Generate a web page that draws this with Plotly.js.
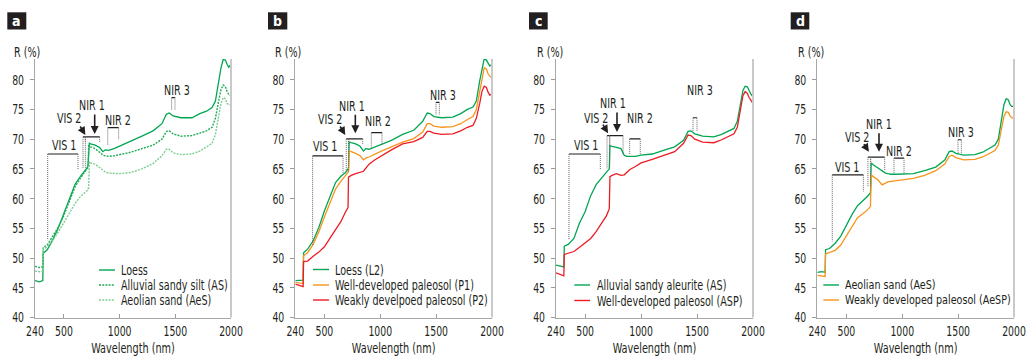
<!DOCTYPE html>
<html><head><meta charset="utf-8">
<script src="https://cdn.plot.ly/plotly-3.0.1.min.js"></script>
<style>html,body{margin:0;padding:0;background:#fff}#chart{width:1034px;height:356px}</style>
</head><body><div id="chart"></div>
<script>
// ---------------- data ----------------
const wavelength = [240,280,310,314,350,400,450,500,550,600,650,690,712,716,722,728,740,780,820,850,870,900,950,1000,1100,1200,1300,1380,1420,1445,1480,1550,1650,1720,1780,1830,1860,1890,1910,1930,1950,1965,1980,2000];

// panel a
const loessA = [46.2,46.0,46.2,50.8,51.4,53.1,55.1,57.6,60.1,62.4,63.8,64.7,65.3,65.5,69.3,69.3,69.2,69.0,68.6,67.9,68.2,68.1,68.4,68.8,69.6,70.5,71.4,72.6,74.2,74.4,73.9,73.6,73.6,74.3,74.7,75.3,76.4,79.8,82.0,83.4,83.3,82.6,82.1,82.6];
const alluvialSiltA = [48.6,48.4,48.5,51.8,52.2,53.6,55.2,57.2,59.6,62.0,63.5,64.5,65.1,65.3,68.9,68.9,68.7,68.4,67.8,67.3,67.2,67.1,67.2,67.4,67.8,68.4,69.0,70.0,71.3,71.4,70.9,70.5,70.6,71.0,71.4,72.0,73.5,76.5,78.3,79.1,78.8,78.0,77.5,77.3];
const aeolianSandA = [47.8,47.7,47.8,51.5,51.9,53.0,54.4,56.0,57.8,59.2,60.4,61.0,61.4,61.6,61.8,66.2,66.0,65.8,65.2,64.8,64.5,64.3,64.2,64.2,64.4,65.0,65.9,67.2,68.3,68.3,67.7,67.4,67.5,68.0,68.7,69.3,70.8,74.0,76.0,77.0,76.8,76.0,75.8,75.8];
// panel b
const loessL2B = [46.2,46.3,46.3,50.9,51.5,52.9,55.1,57.9,60.4,62.7,63.8,64.4,65.0,65.1,69.5,69.5,69.4,69.2,68.8,68.0,68.4,68.3,68.7,69.0,69.8,70.8,71.5,73.0,74.4,74.3,73.8,73.6,73.7,74.3,75.0,75.4,76.4,79.8,82.0,83.5,83.3,82.8,82.3,82.6];
const paleosolP1B = [45.9,45.8,45.7,50.4,50.9,52.3,54.4,56.9,59.4,61.6,63.0,63.9,64.4,64.5,68.0,68.0,67.9,67.6,67.2,66.5,66.8,67.0,67.5,67.9,68.7,69.5,70.1,71.2,72.6,72.6,72.2,72.0,72.1,72.6,73.3,73.8,75.0,78.3,80.5,82.0,81.8,81.0,80.6,80.3];
const paleosolP2B = [45.6,45.3,45.2,49.4,49.5,50.3,51.0,51.9,53.3,54.8,56.2,57.8,58.5,63.6,63.7,63.8,63.9,64.2,64.4,64.6,65.1,65.8,66.5,67.1,68.2,69.2,69.6,70.3,71.3,71.3,71.0,70.8,70.9,71.4,72.0,72.3,73.5,76.0,78.0,78.9,78.7,77.9,77.4,77.6];
// panel c
const aleuriteC = [48.8,48.6,48.5,52.0,52.3,53.3,55.9,57.8,60.5,62.4,63.6,64.4,64.9,65.0,68.9,68.9,68.8,68.6,68.4,67.3,67.1,67.1,67.1,67.3,67.5,68.1,68.7,69.8,71.3,71.4,70.9,70.5,70.4,70.8,71.3,71.8,73.0,76.3,78.2,78.9,78.8,78.2,77.6,77.1];
const paleosolASPC = [47.5,47.2,47.0,50.6,50.8,51.1,51.8,52.5,53.3,54.5,55.9,57.1,58.1,58.3,63.7,63.8,63.9,64.2,63.9,64.0,64.4,64.9,65.4,66.0,66.6,67.3,67.9,69.3,70.7,70.6,70.0,69.5,69.4,69.9,70.4,70.9,72.0,75.5,77.3,78.0,77.7,77.0,76.5,76.0];
// panel d
const aeolianSandD = [47.6,47.7,47.6,51.4,51.6,52.5,53.7,55.6,57.3,58.8,59.6,60.4,60.9,61.0,66.0,65.9,65.7,65.2,64.6,64.3,64.2,64.1,64.1,64.1,64.2,64.7,65.3,66.5,67.9,68.0,67.6,67.3,67.4,67.8,68.4,69.0,70.0,73.5,75.8,76.8,76.6,75.8,75.5,75.5];
const paleosolAeSPD = [47.1,47.0,46.9,50.7,50.9,51.3,52.2,53.8,55.4,56.8,57.5,58.1,58.6,58.7,64.0,63.9,63.7,63.2,62.3,62.6,62.8,62.9,63.0,63.1,63.4,63.9,64.7,65.8,67.1,67.3,66.9,66.5,66.6,67.0,67.6,68.1,69.0,72.0,73.8,74.6,74.5,73.9,73.6,73.5];

const panelLetters = ['a','b','c','d'];
const namesA = ['Loess','Alluvial sandy silt (AS)','Aeolian sand (AeS)'];
const namesB = ['Loess (L2)','Well-developed paleosol (P1)','Weakly develpoed paleosol (P2)'];
const namesC = ['Alluvial sandy aleurite (AS)','Well-developed paleosol (ASP)'];
const namesD = ['Aeolian sand (AeS)','Weakly developed paleosol (AeSP)'];
const xTickVals = [240,500,1000,1500,2000];
const xTickText = ['240','500','1000','1500','2000'];
const yTickVals = [40,45,50,55,60,65,70,75,80];
const yTickText = ['40','45','50','55','60','65','70','75','80'];
const bandLabels = ['VIS 1','VIS 2','NIR 1','NIR 2','NIR 3'];
const yLabel = 'R (%)';
const xLabel = 'Wavelength (nm)';

// ---------------- styles / layout positions ----------------
const W = 1034, H = 356;
const FONT = '"DejaVu Sans Condensed","Liberation Sans Narrow","Arial Narrow",Roboto,sans-serif';
const INK = '#231f20';
const GREEN = '#00a651', GREEN2 = '#1fab55', GREEN3 = '#7ccd92', ORANGE = '#f7941d', RED = '#ed1c24';
const DOTS = '2px,1.2px';
const pxX = v => v / W, pxY = v => 1 - v / H;
const Y_DOMAIN = [pxY(317.5), pxY(58.9)];

const panels = [
  { series: [[loessA, namesA[0], GREEN, 'solid'], [alluvialSiltA, namesA[1], GREEN2, DOTS], [aeolianSandA, namesA[2], GREEN3, DOTS]],
    xdom: [35, 231], leg: {x0: 99, x1: 115, tx: 120, ys: [270, 285, 300], fs: 14, f: 0.76}, box: [7.3, 26.3], rx: 12.5,
    marks: { vis1: {x0:354,x1:626,top:67.5,yl:53.0,yr:64.8,tx:498,ty:69.0},
             vis2: {x0:671,x1:692,top:70.4,bot:65.1,tx:543,ty:73.5,hx:692,hy:70.7,ax:-6,ay:-10},
             nir1: {x0:692,x1:821,top:70.4,yl:69.5,yr:69.5,tx:752,ty:75.7,hx:776,hy:70.85,ay:-21},
             nir2: {x0:893,x1:991,top:71.95,yl:69.0,yr:69.9,tx:985,ty:73.25},
             nir3: {x0:1467,x1:1497,top:77.0,yl:74.9,yr:74.9,tx:1515,ty:78.3} } },
  { series: [[loessL2B, namesB[0], GREEN, 'solid'], [paleosolP1B, namesB[1], ORANGE, 'solid'], [paleosolP2B, namesB[2], RED, 'solid']],
    xdom: [295.3, 492], leg: {x0: 313, x1: 329, tx: 334, ys: [269.5, 285, 300], fs: 14, f: 0.76}, box: [268, 287.3], rx: 274.2,
    marks: { vis1: {x0:395,x1:667,top:67.2,yl:52.2,yr:64.3,tx:508,ty:68.9},
             vis2: {x0:696,x1:717,top:70.05,bot:64.55,tx:548,ty:73.4,hx:687,hy:70.7,ax:-6,ay:-10},
             nir1: {x0:717,x1:843,top:70.05,yl:69.15,yr:69.15,tx:750,ty:75.6,hx:777,hy:71.0,ay:-20},
             nir2: {x0:920,x1:1016,top:71.1,yl:68.4,yr:69.0,tx:980,ty:73.1},
             nir3: {x0:1499,x1:1529,top:76.2,yl:74.1,yr:74.1,tx:1559,ty:77.5} } },
  { series: [[aleuriteC, namesC[0], GREEN, 'solid'], [paleosolASPC, namesC[1], RED, 'solid']],
    xdom: [556, 753], leg: {x0: 574.3, x1: 590, tx: 595.5, ys: [285, 300.5], fs: 14, f: 0.76}, box: [529, 547.7], rx: 535.5,
    marks: { vis1: {x0:356,x1:636,top:67.5,yl:53.05,yr:64.8,tx:511,ty:69.0},
             vis2: {x0:696,x1:720,top:70.6,bot:65.1,tx:595,ty:73.5,hx:705,hy:71.0,ax:-6,ay:-10},
             nir1: {x0:720,x1:839,top:70.6,yl:68.8,yr:67.4,tx:750,ty:76.0,hx:785,hy:71.2,ay:-21},
             nir2: {x0:898,x1:993,top:70.05,yl:67.4,yr:67.4,tx:993,ty:73.5},
             nir3: {x0:1464,x1:1500,top:73.6,yl:71.4,yr:71.4,tx:1529,ty:78.3} } },
  { series: [[aeolianSandD, namesD[0], GREEN, 'solid'], [paleosolAeSPD, namesD[1], ORANGE, 'solid']],
    xdom: [817.3, 1014], leg: {x0: 823.3, x1: 839, tx: 844.2, ys: [285, 300], fs: 12, f: 0.89}, box: [790.7, 809.3], rx: 796.5,
    marks: { vis1: {x0:374,x1:652,top:64.0,yl:52.8,yr:61.2,tx:508,ty:65.4},
             vis2: {x0:693,x1:717,top:66.97,bot:62.0,tx:594,ty:70.3,hx:702,hy:67.9,ax:-6,ay:-9},
             nir1: {x0:717,x1:843,top:66.97,yl:66.0,yr:64.8,tx:795,ty:72.6,hx:792,hy:67.9,ay:-20},
             nir2: {x0:926,x1:1016,top:66.8,yl:64.2,yr:64.2,tx:971,ty:68.0},
             nir3: {x0:1499,x1:1529,top:69.9,yl:67.6,yr:67.6,tx:1523,ty:71.2} } }
];

// ---------------- build ----------------
const traces = [], shapes = [], annotations = [];
const condenseFactor = [];
const layout = {
  width: W, height: H, margin: {l: 0, r: 0, t: 0, b: 0},
  paper_bgcolor: '#fff', plot_bgcolor: '#fff', showlegend: false,
  font: {family: FONT, size: 14, color: INK}
};

function txt(x, y, text, xref, yref, extra) {
  return Object.assign({x, y, xref, yref, text, showarrow: false, font: {family: FONT, size: 14, color: INK},
    xanchor: 'center', yanchor: 'middle', borderpad: 0}, extra || {});
}
function addAnn(a, f) { annotations.push(a); condenseFactor.push(f); }

panels.forEach((p, i) => {
  const s = i === 0 ? '' : String(i + 1);
  const xr = 'x' + s, yr = 'y' + s;
  p.series.forEach(([y, name, color, dash]) => {
    traces.push({type: 'scatter', mode: 'lines', x: wavelength, y, name, xaxis: xr, yaxis: yr,
      line: {color, width: dash === 'solid' ? 1.3 : 1.4, dash}, hoverinfo: 'x+y+name'});
  });
  layout['xaxis' + s] = {
    domain: [pxX(p.xdom[0]), pxX(p.xdom[1])], range: [240, 2000], anchor: yr,
    tickvals: xTickVals, ticktext: xTickText, ticks: 'inside', ticklen: 4, tickcolor: '#9a9a9a',
    showline: true, linecolor: '#a8a8a8', linewidth: 1.2, showgrid: false, zeroline: false,
    tickfont: {family: FONT, size: 14, color: INK}, fixedrange: true,
    title: {text: xLabel, font: {family: FONT, size: 14, color: INK}}
  };
  layout['yaxis' + s] = {
    domain: Y_DOMAIN, range: [40, 83.5], anchor: xr,
    tickvals: yTickVals, ticktext: yTickText, ticks: 'outside', ticklen: 4, tickcolor: '#9a9a9a',
    showline: true, linecolor: '#a8a8a8', linewidth: 1.2, showgrid: false, zeroline: false,
    tickfont: {family: FONT, size: 14, color: INK}, fixedrange: true, ticklabelstandoff: 3
  };
  shapes.push({type: 'line', xref: xr + ' domain', yref: yr + ' domain', x0: 1, x1: 1, y0: 0, y1: 1,
    line: {color: '#c9c9c9', width: 2}});
  shapes.push({type: 'rect', xref: 'paper', yref: 'paper', x0: pxX(p.box[0]), x1: pxX(p.box[1]),
    y0: pxY(29.5), y1: pxY(12.3), fillcolor: INK, line: {width: 0}});
  addAnn(txt(pxX((p.box[0] + p.box[1]) / 2), pxY(21), '<b>' + panelLetters[i] + '</b>', 'paper', 'paper',
    {font: {family: FONT, size: 14, color: '#fff'}}), 0);
  addAnn(txt(pxX(p.rx), pxY(52), yLabel, 'paper', 'paper', {xanchor: 'left'}), 0.76);
  p.series.forEach(([y, name, color, dash], k) => {
    const ly = p.leg.ys[k];
    shapes.push({type: 'line', xref: 'paper', yref: 'paper', x0: pxX(p.leg.x0), x1: pxX(p.leg.x1),
      y0: pxY(ly), y1: pxY(ly), line: {color, width: 1.4, dash}});
    addAnn(txt(pxX(p.leg.tx), pxY(ly), name, 'paper', 'paper',
      {xanchor: 'left', font: {family: FONT, size: p.leg.fs, color: INK}}), p.leg.f);
  });
  const m = p.marks;
  const bracket = (b, yl, yr2) => {
    shapes.push({type: 'line', xref: xr, yref: yr, x0: b.x0, x1: b.x1, y0: b.top, y1: b.top, line: {color: INK, width: 1.2}});
    shapes.push({type: 'line', xref: xr, yref: yr, x0: b.x0, x1: b.x0, y0: b.top, y1: yl, line: {color: '#666', width: 1, dash: '1px,1px'}});
    shapes.push({type: 'line', xref: xr, yref: yr, x0: b.x1, x1: b.x1, y0: b.top, y1: yr2, line: {color: '#666', width: 1, dash: '1px,1px'}});
  };
  bracket(m.vis1, m.vis1.yl, m.vis1.yr);
  bracket(m.vis2, m.vis2.bot, m.vis2.bot);
  bracket(m.nir1, m.nir1.yl, m.nir1.yr);
  bracket(m.nir2, m.nir2.yl, m.nir2.yr);
  bracket(m.nir3, m.nir3.yl, m.nir3.yr);
  [m.vis1, m.vis2, m.nir1, m.nir2, m.nir3].forEach((b, k) => {
    addAnn(txt(b.tx, b.ty, bandLabels[k], xr, yr), 0.76);
  });
  addAnn({x: m.vis2.hx, y: m.vis2.hy, xref: xr, yref: yr, text: '', showarrow: true,
    ax: m.vis2.ax, ay: m.vis2.ay, arrowhead: 2, arrowsize: 1, arrowwidth: 1.6, arrowcolor: INK, standoff: 0}, 0);
  addAnn({x: m.nir1.hx, y: m.nir1.hy, xref: xr, yref: yr, text: '', showarrow: true,
    ax: 0, ay: m.nir1.ay, arrowhead: 2, arrowsize: 1, arrowwidth: 1.6, arrowcolor: INK, standoff: 0}, 0);
});
layout.shapes = shapes;
layout.annotations = annotations;

// condense text horizontally to mimic the narrow typeface of the original
function condense(el, f, mode, rect) {
  if (!el || !f || !el.textContent.trim()) return;
  const b0 = el.getBBox();
  if (!b0.width) return;
  el.setAttribute('textLength', (b0.width * f).toFixed(2));
  el.setAttribute('lengthAdjust', 'spacingAndGlyphs');
  const b1 = el.getBBox();
  let dx;
  if (mode === 'left') dx = b0.x - b1.x;
  else if (mode === 'right') dx = (b0.x + b0.width) - (b1.x + b1.width);
  else dx = (b0.x + b0.width / 2) - (b1.x + b1.width / 2);
  const x = parseFloat(el.getAttribute('x') || '0');
  el.setAttribute('x', x + dx);
  el.querySelectorAll('tspan[x]').forEach(t => t.setAttribute('x', parseFloat(t.getAttribute('x')) + dx));
  if (rect) {
    const shrink = b0.width - b1.width;
    const rw = parseFloat(rect.getAttribute('width') || '0');
    const rx = parseFloat(rect.getAttribute('x') || '0');
    rect.setAttribute('width', Math.max(0, rw - shrink));
    if (mode !== 'left') rect.setAttribute('x', rx + shrink / 2);
  }
}

Plotly.newPlot('chart', traces, layout, {displayModeBar: false, staticPlot: true}).then(gd => {
  gd.querySelectorAll('g.annotation').forEach(g => {
    const idx = +g.getAttribute('data-index');
    const a = annotations[idx];
    const t = g.querySelector('text.annotation-text');
    if (!a || !t) return;
    condense(t, condenseFactor[idx], a.xanchor === 'left' ? 'left' : 'center', g.querySelector('rect.bg'));
  });
  gd.querySelectorAll('.xaxislayer-above text').forEach(t => condense(t, 0.74, 'center'));
  gd.querySelectorAll('.yaxislayer-above text').forEach(t => condense(t, 0.74, 'right'));
  gd.querySelectorAll('text.xtitle, text.x2title, text.x3title, text.x4title').forEach(t => condense(t, 0.77, 'center'));
});
</script></body></html>
